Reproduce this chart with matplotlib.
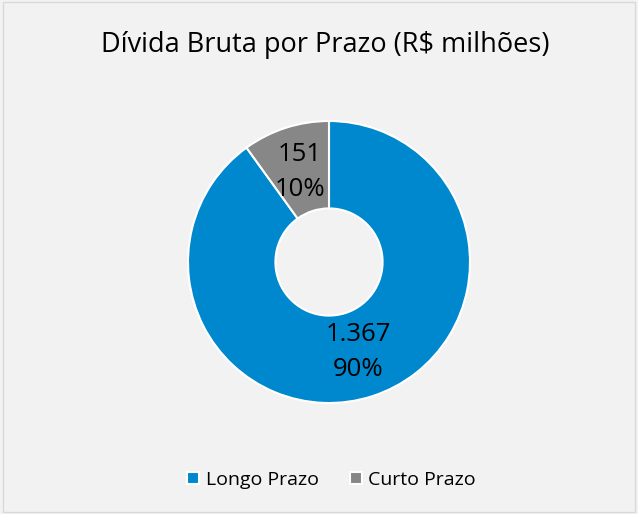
import numpy as np
import matplotlib.pyplot as plt
from matplotlib.patches import Rectangle

labels = ['Longo Prazo', 'Curto Prazo']
values = [1367, 151]
value_text = ['1.367', '151']
colors = ['#0088CE', '#878787']

W, H = 638, 514
fig = plt.figure(figsize=(W / 100, H / 100), dpi=100)
fig.patch.set_facecolor('#F2F2F2')
fig.patches.append(Rectangle((0.004, 0.004), 0.992, 0.992, transform=fig.transFigure,
                             fill=False, edgecolor='#D9D9D9', linewidth=1))

cx, cy, r = 329, 262, 141
ax = fig.add_axes([(cx - r) / W, (H - cy - r) / H, 2 * r / W, 2 * r / H])
ax.set_facecolor('none')

total = sum(values)
wedges, _ = ax.pie(values, colors=colors, startangle=90, counterclock=False,
                   radius=1.0, wedgeprops=dict(width=0.62, edgecolor='white', linewidth=1.5))
ax.set_xlim(-1, 1)
ax.set_ylim(-1, 1)
ax.set_aspect('equal')

angle = 90
for v, t in zip(values, value_text):
    sweep = 360 * v / total
    mid = np.deg2rad(angle - sweep / 2)
    angle -= sweep
    pct = f'{round(100 * v / total)}%'
    ax.text(0.67 * np.cos(mid), 0.67 * np.sin(mid), f'{t}\n{pct}', ha='center', va='center',
            fontsize=18.5, family='Open Sans', color='black', linespacing=1.55)

fig.text(0.51, 1 - 45 / H, 'Dívida Bruta por Prazo (R$ milhões)', ha='center', va='center',
         fontsize=19.5, family='Open Sans', color='black')

leg = fig.legend(wedges, labels, loc='center', bbox_to_anchor=(0.52, 1 - 480 / H), ncol=2,
                 frameon=False, prop={'family': 'Open Sans', 'size': 14}, handlelength=0.6,
                 handleheight=0.6, handletextpad=0.35, columnspacing=1.6)

fig.savefig('out.png', dpi=100, facecolor=fig.get_facecolor())
